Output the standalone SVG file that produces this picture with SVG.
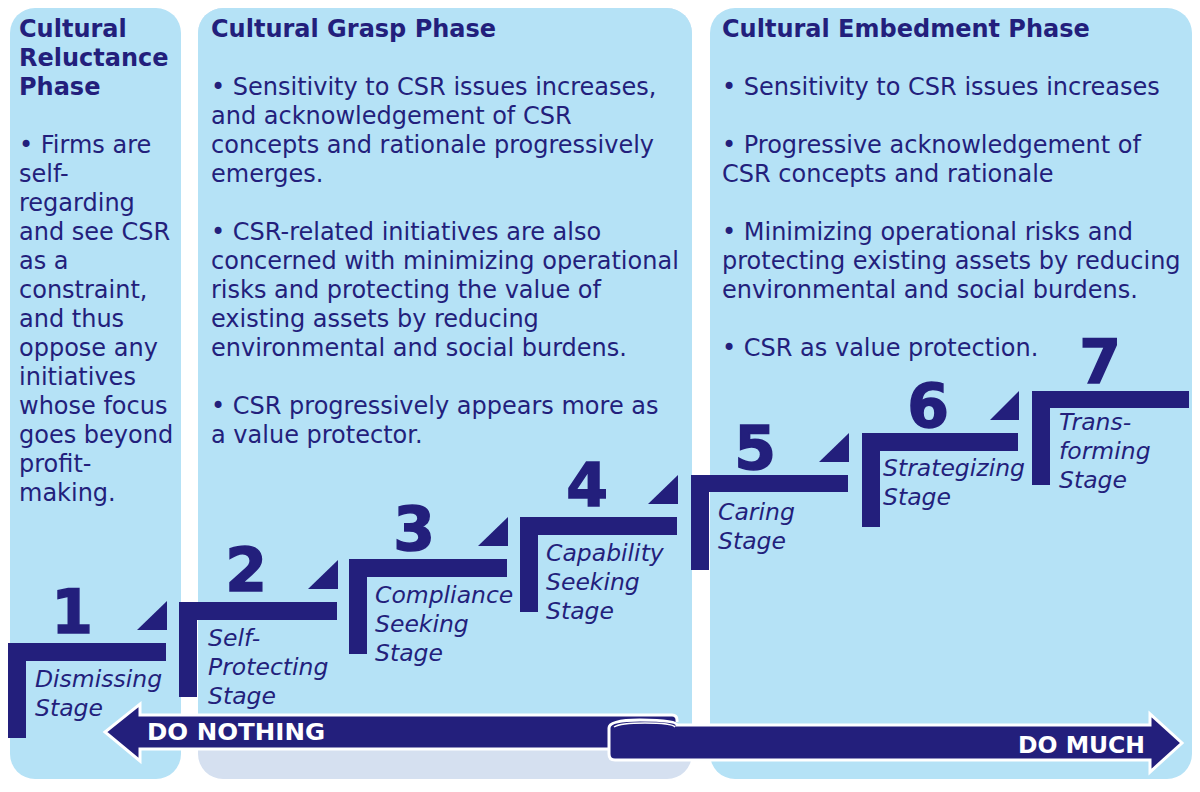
<svg xmlns="http://www.w3.org/2000/svg" width="1200" height="792" viewBox="0 0 1200 792">
<defs>
<style>
.panel{fill:#b5e2f6}
.gray{fill:#d5e0f0}
.t{font-family:"DejaVu Sans",Verdana,sans-serif;font-size:24px;fill:#231f7c}
.h{font-weight:bold}
.lab{font-family:"DejaVu Sans",Verdana,sans-serif;font-size:23.5px;font-style:italic;fill:#231f7c}
.num{font-family:"DejaVu Sans",sans-serif;font-weight:bold;font-size:60px;fill:#231f7c;stroke:#231f7c;stroke-width:1.5;text-anchor:middle}
.step{fill:#231f7c}
.arrow{fill:#231f7c;stroke:#ffffff;stroke-width:3;stroke-linejoin:miter}
.at{font-family:"DejaVu Sans",Verdana,sans-serif;font-weight:bold;font-size:23px;fill:#ffffff}
</style>
</defs>
<rect width="1200" height="792" fill="#ffffff"/>

<g id="panel-reluctance">
<rect class="panel" x="10" y="8" width="171" height="771" rx="25"/>
<text class="t h" x="19" y="37">Cultural</text>
<text class="t h" x="19" y="66">Reluctance</text>
<text class="t h" x="19" y="95">Phase</text>
<text class="t" x="19">
<tspan x="19" y="153">• Firms are</tspan>
<tspan x="19" y="182">self-</tspan>
<tspan x="19" y="211">regarding</tspan>
<tspan x="19" y="240">and see CSR</tspan>
<tspan x="19" y="269">as a</tspan>
<tspan x="19" y="298">constraint,</tspan>
<tspan x="19" y="327">and thus</tspan>
<tspan x="19" y="356">oppose any</tspan>
<tspan x="19" y="385">initiatives</tspan>
<tspan x="19" y="414">whose focus</tspan>
<tspan x="19" y="443">goes beyond</tspan>
<tspan x="19" y="472">profit-</tspan>
<tspan x="19" y="501">making.</tspan>
</text>
</g>

<g id="panel-grasp">
<rect class="gray" x="198" y="8" width="494" height="771" rx="25"/>
<path class="panel" d="M198 33 A25 25 0 0 1 223 8 L667 8 A25 25 0 0 1 692 33 L692 732 L198 732 Z"/>
<text class="t h" x="211" y="37">Cultural Grasp Phase</text>
<text class="t">
<tspan x="211" y="95">• Sensitivity to CSR issues increases,</tspan>
<tspan x="211" y="124">and acknowledgement of CSR</tspan>
<tspan x="211" y="153">concepts and rationale progressively</tspan>
<tspan x="211" y="182">emerges.</tspan>
<tspan x="211" y="240">• CSR-related initiatives are also</tspan>
<tspan x="211" y="269">concerned with minimizing operational</tspan>
<tspan x="211" y="298">risks and protecting the value of</tspan>
<tspan x="211" y="327">existing assets by reducing</tspan>
<tspan x="211" y="356">environmental and social burdens.</tspan>
<tspan x="211" y="414">• CSR progressively appears more as</tspan>
<tspan x="211" y="443">a value protector.</tspan>
</text>
</g>

<g id="panel-embedment">
<rect class="panel" x="710" y="8" width="482" height="771" rx="25"/>
<text class="t h" x="722" y="37">Cultural Embedment Phase</text>
<text class="t">
<tspan x="722" y="95">• Sensitivity to CSR issues increases</tspan>
<tspan x="722" y="153">• Progressive acknowledgement of</tspan>
<tspan x="722" y="182">CSR concepts and rationale</tspan>
<tspan x="722" y="240">• Minimizing operational risks and</tspan>
<tspan x="722" y="269">protecting existing assets by reducing</tspan>
<tspan x="722" y="298">environmental and social burdens.</tspan>
<tspan x="722" y="356">• CSR as value protection.</tspan>
</text>
</g>

<g id="stage-1">
<path class="step" d="M8 643 H166 V661 H26 V738 H8 Z"/>
<path class="step" d="M137 630 H167 V601 Z"/>
<text class="num" x="72" y="633">1</text>
<text class="lab"><tspan x="35" y="687">Dismissing</tspan><tspan x="35" y="716">Stage</tspan></text>
</g>

<g id="stage-2">
<path class="step" d="M179 602 H337 V620 H197 V697 H179 Z"/>
<path class="step" d="M308 589 H338 V560 Z"/>
<text class="num" x="246" y="591">2</text>
<text class="lab"><tspan x="208" y="646">Self-</tspan><tspan x="208" y="675">Protecting</tspan><tspan x="208" y="704">Stage</tspan></text>
</g>

<g id="stage-3">
<path class="step" d="M349 559 H507 V577 H367 V654 H349 Z"/>
<path class="step" d="M478 546 H508 V517 Z"/>
<text class="num" x="414" y="550">3</text>
<text class="lab"><tspan x="375" y="603">Compliance</tspan><tspan x="375" y="632">Seeking</tspan><tspan x="375" y="661">Stage</tspan></text>
</g>

<g id="stage-4">
<path class="step" d="M520 517 H677 V535 H538 V612 H520 Z"/>
<path class="step" d="M648 504 H678 V475 Z"/>
<text class="num" x="587" y="506">4</text>
<text class="lab"><tspan x="546" y="561">Capability</tspan><tspan x="546" y="590">Seeking</tspan><tspan x="546" y="619">Stage</tspan></text>
</g>

<g id="stage-5">
<path class="step" d="M691 475 H848 V492 H709 V570 H691 Z"/>
<path class="step" d="M819 462 H849 V433 Z"/>
<text class="num" x="755" y="469">5</text>
<text class="lab"><tspan x="718" y="520">Caring</tspan><tspan x="718" y="549">Stage</tspan></text>
</g>

<g id="stage-6">
<path class="step" d="M862 433 H1018 V451 H880 V527 H862 Z"/>
<path class="step" d="M990 420 H1019 V391 Z"/>
<text class="num" x="928" y="427">6</text>
<text class="lab"><tspan x="883" y="476">Strategizing</tspan><tspan x="883" y="505">Stage</tspan></text>
</g>

<g id="stage-7">
<path class="step" d="M1032 391 H1189 V408 H1050 V485 H1032 Z"/>
<text class="num" x="1100" y="383">7</text>
<text class="lab"><tspan x="1059" y="430">Trans-</tspan><tspan x="1059" y="459">forming</tspan><tspan x="1059" y="488">Stage</tspan></text>
</g>

<g id="connectors">
<path id="arrow-do-nothing" class="arrow" d="M677 722 L677 720 Q677 715 672 715 L140 715 L140 704 L105 732 L140 761 L140 749 L612 749"/>
<path id="arrow-do-much" class="arrow" d="M609 728 Q609 720 640 720 Q677 720 677 725 L1150 725 L1150 714 L1182 743 L1150 772 L1150 760 L615 760 Q609 760 609 754 Z"/>
<path d="M614 727 Q620 723 645 723 Q672 723 675 727" fill="none" stroke="#ffffff" stroke-width="1.5"/>
<text class="at" x="147" y="740" textLength="178" lengthAdjust="spacingAndGlyphs">DO NOTHING</text>
<text class="at" x="1018" y="753" textLength="127" lengthAdjust="spacingAndGlyphs">DO MUCH</text>
</g>
</svg>
